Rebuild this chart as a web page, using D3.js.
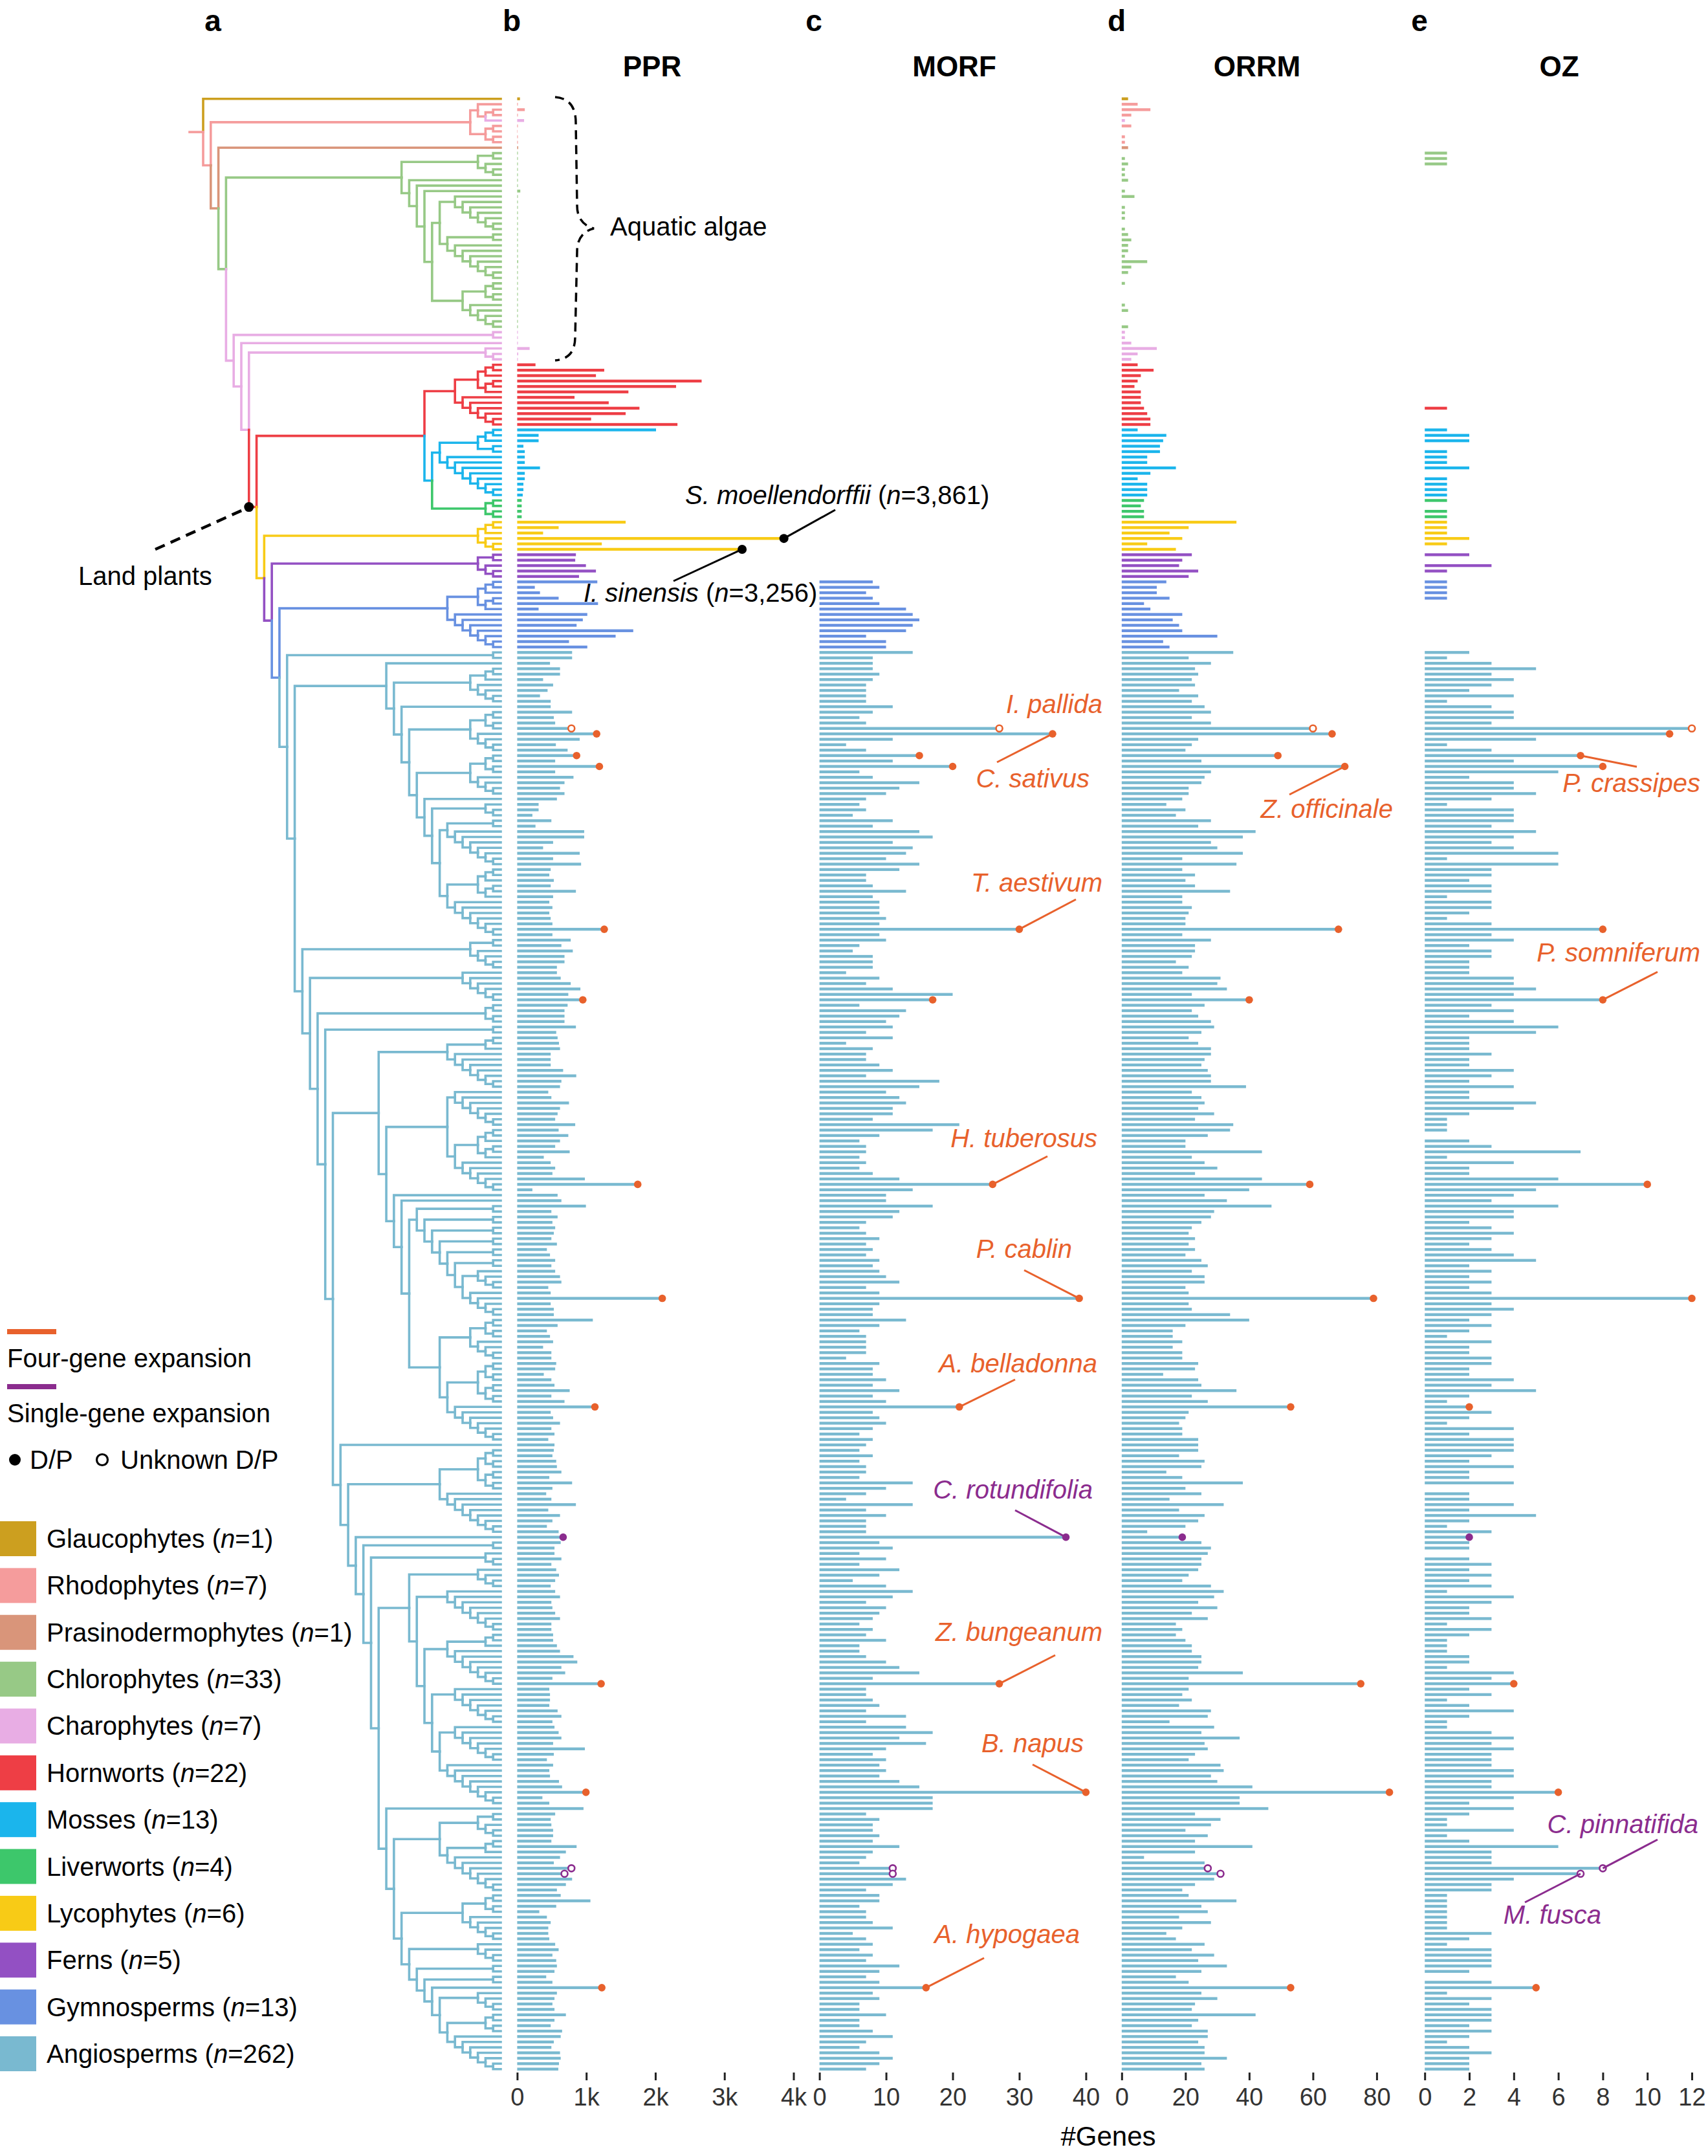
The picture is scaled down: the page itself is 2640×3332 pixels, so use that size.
<!DOCTYPE html>
<html><head><meta charset="utf-8">
<script src="https://cdn.jsdelivr.net/npm/d3@7"></script>
<style>
body{margin:0;background:#fff;}
svg text{font-family:"Liberation Sans", Arial, Helvetica, sans-serif;}
</style>
</head><body>
<svg id="chart" width="2640" height="3332" xmlns="http://www.w3.org/2000/svg"></svg>
<script>
// ---------------- DATA ----------------
const groupInfo = [
  {key:'Gla', name:'Glaucophytes',       n:'1',   color:'#CC9F1F'},
  {key:'Rho', name:'Rhodophytes',        n:'7',   color:'#F59C9C'},
  {key:'Pra', name:'Prasinodermophytes', n:'1',   color:'#D9957A'},
  {key:'Chl', name:'Chlorophytes',       n:'33',  color:'#97C986'},
  {key:'Cha', name:'Charophytes',        n:'7',   color:'#E8ADE4'},
  {key:'Hor', name:'Hornworts',          n:'22',  color:'#EE3E45'},
  {key:'Mos', name:'Mosses',             n:'13',  color:'#1BB5EC'},
  {key:'Liv', name:'Liverworts',         n:'4',   color:'#3DC76B'},
  {key:'Lyc', name:'Lycophytes',         n:'6',   color:'#F8CB16'},
  {key:'Fer', name:'Ferns',              n:'5',   color:'#9350C3'},
  {key:'Gym', name:'Gymnosperms',        n:'13',  color:'#6891E1'},
  {key:'Ang', name:'Angiosperms',        n:'262', color:'#79B9D0'}
];
const rowGroups = [[0,0,'Gla'],[1,3,'Rho'],[4,4,'Cha'],[5,8,'Rho'],[9,9,'Pra'],[10,42,'Chl'],
  [43,48,'Cha'],[49,60,'Hor'],[61,73,'Mos'],[74,77,'Liv'],[78,83,'Lyc'],[84,88,'Fer'],
  [89,101,'Gym'],[102,363,'Ang']];

const pprCounts = [
  40,10,110,10,100,10,5,10,10,15,
  10,10,10,10,10,10,10,45,10,10,10,10,10,10,10,10,10,10,10,10,15,10,10,10,10,10,10,10,10,10,10,10,10,
  10,10,10,180,15,10,
  265,1260,1140,2670,2300,1610,830,1325,1770,1570,1070,2320,
  2010,310,310,90,110,110,110,330,110,110,90,90,80,
  65,65,65,65,
  1570,600,375,3861,1225,3256,
  850,840,995,1140,895,
  1160,255,330,600,1170,310,1015,950,860,1680,1425,750,1015,
  795,795,475,620,620,375,520,440,330,485,485,795,530,550,785,1150,905,560,730,860,550,1190,550,815,685,620,685,575,310,310,220,495,265,970,
  970,520,375,905,520,925,485,465,530,485,850,520,465,510,465,485,510,1260,510,775,640,805,685,685,575,575,630,775,915,740,950,730,685,685,685,850,565,585,605,620,485,485,485,665,855,
  640,620,450,495,750,620,585,550,840,600,740,620,550,760,385,485,550,510,980,1745,220,585,640,995,495,585,510,550,530,495,575,430,475,550,495,550,620,640,450,485,2100,485,530,530,1095,585,
  430,475,520,375,495,495,565,550,385,495,540,760,495,685,1125,485,520,620,495,540,450,540,530,510,565,575,640,465,795,510,420,495,850,450,620,510,430,600,665,630,540,540,640,495,565,
  605,550,485,550,620,495,510,550,620,495,495,520,520,575,620,815,870,640,695,510,1215,465,475,475,465,585,640,510,540,600,640,520,980,530,430,520,465,475,605,650,995,365,465,960,550,
  485,495,520,520,495,860,705,620,530,785,685,795,705,575,630,1060,565,320,430,485,450,450,465,550,600,510,565,575,540,420,510,1225,575,540,510,540,705,540,485,650,630,530,495,620,630,605,595
];
const morfCounts = [].concat(new Array(89).fill(null), [
  8,9,7,8,9,13,14,15,14,13,7,10,10,
  14,8,8,8,9,8,7,7,7,7,11,8,6,7,27,35,11,4,7,15,11,20,6,8,15,12,10,7,6,7,5,11,8,15,
  17,11,14,13,10,15,12,7,7,8,13,8,9,9,9,10,9,30,9,10,6,5,8,8,8,4,9,7,11,20,17,6,13,12,10,11,7,11,4,8,7,7,9,11,7,
  18,15,10,12,13,11,11,8,21,17,9,6,7,7,6,7,6,8,12,26,14,10,10,17,12,11,7,6,7,9,7,8,7,9,8,9,10,12,7,9,39,9,8,8,13,9,
  6,7,7,7,7,4,9,8,8,10,8,12,8,10,21,8,9,10,8,6,8,7,6,8,6,7,7,6,14,10,7,4,14,7,10,7,7,7,37,9,11,6,10,6,12,
  9,5,10,14,11,7,10,9,8,6,8,7,10,6,6,7,10,12,15,8,27,7,7,8,9,7,13,7,13,17,12,16,10,8,10,9,10,9,12,15,40,17,17,17,7,
  9,8,8,9,8,12,8,7,6,11,11,13,11,7,9,9,6,7,7,8,11,5,7,8,6,8,7,12,9,7,9,16,8,9,6,6,10,6,6,8,11,7,6,9,11,9,7
]);
const orrmCounts = [
  2,5,9,3,1,3,0,1,1,2,
  0,1,2,1,1,2,0,1,4,0,1,1,1,0,1,2,3,2,2,1,8,3,2,0,1,0,0,0,1,2,0,0,2,
  1,1,3,11,5,3,
  5,10,6,5,4,6,6,6,7,8,9,9,
  5,14,13,12,12,8,8,17,9,5,8,8,8,
  7,6,7,7,
  36,21,15,19,8,17,
  22,19,18,24,21,
  14,11,11,15,7,9,19,16,18,19,30,13,15,
  35,21,28,23,24,22,23,18,24,22,26,28,22,28,60,66,24,22,20,49,25,70,28,26,25,21,21,19,14,20,17,28,24,42,
  38,28,30,38,19,36,19,23,20,23,34,19,19,22,21,20,20,68,19,28,23,23,22,17,21,19,31,30,33,22,40,26,22,24,28,29,25,21,24,28,28,26,25,27,28,
  28,39,22,25,26,24,29,23,35,34,27,20,20,44,22,26,30,23,44,59,40,26,33,47,29,28,25,22,21,23,21,23,20,25,27,22,26,26,20,21,79,21,22,34,40,20,
  16,16,19,16,19,19,24,23,13,24,25,36,22,27,53,21,20,18,19,19,24,24,24,18,26,25,14,19,38,20,25,15,32,18,26,24,20,8,19,25,28,27,25,25,24,
  21,19,28,32,29,24,30,22,27,17,19,17,20,22,22,25,25,24,38,21,75,21,19,22,18,28,27,15,29,25,37,26,27,23,21,31,32,28,30,41,84,37,37,46,23,
  31,28,20,27,23,41,23,7,26,27,31,29,23,19,21,36,25,27,18,28,19,14,17,26,22,29,24,33,25,17,21,53,25,30,23,22,42,24,22,27,27,24,26,26,33,25,26
];
const ozCounts = [
  0,0,0,0,0,0,0,0,0,0,
  1,1,1,0,0,0,0,0,0,0,0,0,0,0,0,0,0,0,0,0,0,0,0,0,0,0,0,0,0,0,0,0,0,
  0,0,0,0,0,0,
  0,0,0,0,0,0,0,0,1,0,0,0,
  1,2,2,0,1,1,1,2,0,1,1,1,1,
  1,0,1,1,
  1,1,1,2,1,0,
  2,0,3,1,0,
  1,1,1,1,0,0,0,0,0,0,0,0,0,
  2,1,3,5,3,4,3,2,4,1,3,4,4,3,12,11,5,1,3,7,4,8,6,2,4,4,5,3,1,4,4,4,3,5,
  4,3,4,6,1,6,3,3,2,3,3,1,3,3,2,1,3,8,3,4,2,3,3,2,2,2,4,4,5,4,8,3,4,2,4,6,5,2,2,2,3,2,2,4,3,
  2,4,2,2,5,4,2,1,1,1,0,2,3,7,1,4,2,2,6,10,5,4,3,6,4,4,2,3,4,3,2,3,4,5,2,3,2,3,2,3,12,3,4,3,2,3,
  2,1,3,2,2,3,3,2,2,4,3,5,2,1,2,3,2,1,4,2,4,4,4,3,2,4,2,2,4,0,2,2,4,2,5,2,1,3,2,2,2,0,2,3,2,
  3,2,3,1,4,3,2,2,3,1,3,2,1,1,1,2,2,1,4,3,4,2,3,1,2,4,2,1,1,3,4,3,4,3,3,3,4,4,3,3,6,4,2,4,2,
  1,1,4,1,2,6,3,3,3,8,7,4,3,3,1,1,1,1,1,1,1,3,2,1,3,3,3,3,2,0,3,5,1,3,2,3,3,3,2,3,2,1,2,3,2,2,2
];

const highlights = [
  {row:116, kind:'four',   open:true,  name:'I. pallida'},
  {row:117, kind:'four',   open:false, name:'C. sativus'},
  {row:121, kind:'four',   open:false, name:'P. crassipes'},
  {row:123, kind:'four',   open:false, name:'Z. officinale'},
  {row:153, kind:'four',   open:false, name:'T. aestivum'},
  {row:166, kind:'four',   open:false, name:'P. somniferum'},
  {row:200, kind:'four',   open:false, name:'H. tuberosus'},
  {row:221, kind:'four',   open:false, name:'P. cablin'},
  {row:241, kind:'four',   open:false, name:'A. belladonna'},
  {row:265, kind:'single', open:false, name:'C. rotundifolia'},
  {row:292, kind:'four',   open:false, name:'Z. bungeanum'},
  {row:312, kind:'four',   open:false, name:'B. napus'},
  {row:326, kind:'single', open:true,  name:'C. pinnatifida'},
  {row:327, kind:'single', open:true,  name:'M. fusca'},
  {row:348, kind:'four',   open:false, name:'A. hypogaea'}
];
const pprNotes = [
  {row:81, name:'S. moellendorffii', n:'3,861'},
  {row:83, name:'I. sinensis', n:'3,256'}
];

// phylogeny topology: 1 = leaf, array = node, {n,h} = terminal clade of n leaves and depth h
const RHODO  = [[1,[[1,1],1]],[[1,1],[1,1]]];
const CHLORO = [{n:5,h:3},[1,[1,[1,[[{n:7,h:6},{n:9,h:7}],{n:9,h:5}]]]]];
const BRYO   = [{n:12,h:6},[{n:13,h:8},{n:4,h:2}]];
const MONO   = [1,[{n:7,h:4},[1,[{n:8,h:4},[{n:8,h:4},[1,[{n:3,h:2},[{n:9,h:7},{n:13,h:7}]]]]]]]];
const AN8F   = [{n:2,h:1},[{n:2,h:1},[{n:2,h:1},[{n:2,h:1},[{n:2,h:1},[{n:2,h:1},[{n:4,h:3},{n:5,h:4}]]]]]]];
const AN8    = [{n:10,h:7},[[{n:7,h:6},{n:12,h:6}],[1,[1,[AN8F,[{n:8,h:4},{n:15,h:7}]]]]]];
const AN14A  = [{n:4,h:3},[{n:8,h:7},[{n:10,h:7},[{n:7,h:6},[{n:7,h:6},{n:8,h:7}]]]]];
const AN15   = [1,[[{n:5,h:3},{n:10,h:7}],[{n:9,h:5},[{n:4,h:3},[{n:2,h:1},[{n:2,h:1},[1,[{n:4,h:3},{n:11,h:7}]]]]]]]];
const AN9    = [1,[{n:16,h:8},[1,[{n:2,h:1},[{n:3,h:2},[AN14A,AN15]]]]]];
const AN3    = [{n:6,h:4},[{n:6,h:5},[{n:4,h:2},[{n:2,h:1},[AN8,AN9]]]]];
const ANGIO  = [{n:2,h:1},[MONO,AN3]];
const TRACH  = [{n:6,h:3},[{n:5,h:3},[{n:13,h:7},ANGIO]]];
const LANDP  = [BRYO, TRACH];
const treeSpec = [1,[RHODO,[1,[CHLORO,[[1,1],[1,[[1,[1,1]],LANDP]]]]]]];

// ---------------- LAYOUT ----------------
const svg = d3.select('#chart');
const FONT = '"Liberation Sans", Arial, sans-serif';
const ORANGE = '#E8612C', PURPLE = '#8B2C8E';
const colorOf = {}; groupInfo.forEach(g => colorOf[g.key] = g.color);
const rowColor = [];
rowGroups.forEach(([a,b,k]) => { for (let i=a;i<=b;i++) rowColor[i] = colorOf[k]; });

const nRows = pprCounts.length;
const rowY = d3.scaleLinear().domain([0, nRows-1]).range([152.7, 3197.7]);

const panels = [
  {title:'PPR',  letter:'b', values:pprCounts,  domain:[0,4000], range:[799.4,1226.5], ticks:[0,1000,2000,3000,4000], fmt:d => d ? (d/1000)+'k' : '0', letterX:791,  titleX:1008},
  {title:'MORF', letter:'c', values:morfCounts, domain:[0,40],   range:[1266.6,1678.4], ticks:[0,10,20,30,40], fmt:d3.format('d'), letterX:1258, titleX:1475},
  {title:'ORRM', letter:'d', values:orrmCounts, domain:[0,80],   range:[1733.8,2127.9], ticks:[0,20,40,60,80], fmt:d3.format('d'), letterX:1726, titleX:1943},
  {title:'OZ',   letter:'e', values:ozCounts,   domain:[0,12],   range:[2202.2,2615],   ticks:[0,2,4,6,8,10,12], fmt:d3.format('d'), letterX:2194, titleX:2410}
];
panels.forEach(p => p.x = d3.scaleLinear().domain(p.domain).range(p.range));
const panelBy = {}; panels.forEach(p => panelBy[p.title] = p);

// ---- tree ----
function ladder(k){ return k===1 ? 1 : [1, ladder(k-1)]; }
function balanced(k){ return k===1 ? 1 : [balanced(Math.ceil(k/2)), balanced(Math.floor(k/2))]; }
function clade(n,h){ if (n===1) return 1; if (h >= n-1) return ladder(n); return [balanced(n-h), ladder(h)]; }
function expand(s){
  if (s === 1) return {};
  if (Array.isArray(s)) return {children: s.map(expand)};
  return expand(clade(s.n, s.h));
}
const root = d3.hierarchy(expand(treeSpec), d => d.children);
d3.cluster().size([1,1]).separation(() => 1)(root);
const leaves = root.leaves();
leaves.forEach((l,i) => l.row = i);
const ty = d3.scaleLinear().domain([leaves[0].x, leaves[leaves.length-1].x]).range([rowY(0), rowY(leaves.length-1)]);
const tx = d3.scaleLinear().domain([0,1]).range([314, 774]);
root.each(n => { n.col = rowColor[n.leaves()[0].row] || '#999'; });

const gTree = svg.append('g').attr('fill','none').attr('stroke-width',3.6).attr('stroke-linecap','square');
gTree.selectAll('path').data(root.links()).join('path')
  .attr('d', l => `M${tx(l.source.y)},${ty(l.source.x)}V${ty(l.target.x)}H${tx(l.target.y)}`)
  .attr('stroke', l => l.target.col);
gTree.append('path').attr('d', `M${tx(0)-21},${ty(root.x)}H${tx(0)}`).attr('stroke', colorOf.Rho);

// land plants marker
const lp = root.descendants().find(n => n.children && n.leaves()[0].row === 49 && n.leaves().length === leaves.length-49);
if (lp) {
  const lpX = tx(lp.parent.y), lpY = ty(lp.x);
  svg.append('line').attr('x1',240).attr('y1',849).attr('x2',lpX-6).attr('y2',lpY+3)
    .attr('stroke','#000').attr('stroke-width',4.5).attr('stroke-dasharray','16 10');
  svg.append('circle').attr('cx',lpX).attr('cy',lpY).attr('r',7.5).attr('fill','#000');
}
svg.append('text').attr('x',121).attr('y',904).attr('font-size',40).text('Land plants');

// aquatic algae brace
svg.append('path')
  .attr('d','M858,150 C880,152 890,165 890,190 L892,318 C892,340 905,350 918,353 C905,356 892,366 892,388 L889,520 C889,545 878,555 858,557')
  .attr('fill','none').attr('stroke','#000').attr('stroke-width',3.5).attr('stroke-dasharray','14 9');
svg.append('text').attr('x',943).attr('y',364).attr('font-size',40).text('Aquatic algae');

// ---- bars ----
const BAR_H = 4.4;
panels.forEach(p => {
  const g = svg.append('g');
  const data = p.values.map((v,i) => ({v:v, i:i})).filter(d => d.v != null && d.v > 0);
  g.selectAll('rect').data(data).join('rect')
    .attr('x', p.x(0)).attr('width', d => p.x(d.v) - p.x(0))
    .attr('y', d => rowY(d.i) - BAR_H/2).attr('height', BAR_H)
    .attr('fill', d => rowColor[d.i]);
  const ax = svg.append('g').attr('transform','translate(0,3203)')
    .call(d3.axisBottom(p.x).tickValues(p.ticks).tickFormat(p.fmt).tickSize(12).tickPadding(12));
  ax.select('.domain').remove();
  ax.selectAll('.tick line').attr('stroke','#222').attr('stroke-width',3);
  ax.selectAll('.tick text').attr('font-size',38).attr('font-family',FONT).attr('fill','#333');
  svg.append('text').attr('x', p.titleX).attr('y',118)
    .attr('text-anchor','middle').attr('font-size',44).attr('font-weight','bold').text(p.title);
  svg.append('text').attr('x', p.letterX).attr('y',48).attr('text-anchor','middle')
    .attr('font-size',46).attr('font-weight','bold').text(p.letter);
});
svg.append('text').attr('x',329).attr('y',48).attr('text-anchor','middle').attr('font-size',46).attr('font-weight','bold').text('a');

// ---- expansion markers ----
const markG = svg.append('g');
highlights.forEach(h => {
  const col = h.kind === 'four' ? ORANGE : PURPLE;
  panels.forEach(p => {
    const v = p.values[h.row];
    markG.append('circle').attr('cx', p.x(v)).attr('cy', rowY(h.row)).attr('r', h.open ? 5 : 5.8)
      .attr('fill', h.open ? '#fff' : col).attr('stroke', col).attr('stroke-width', h.open ? 2.6 : 0);
  });
});

// ---- labels ----
const labelLayout = {
  'I. pallida':     {panel:'MORF', x:1704, y:1102, anchor:'end'},
  'C. sativus':     {panel:'MORF', x:1684, y:1217, anchor:'end', lx:1541, ly:1178},
  'P. crassipes':   {panel:'OZ',   x:2628, y:1224, anchor:'end', lx:2530, ly:1185},
  'Z. officinale':  {panel:'ORRM', x:2153, y:1264, anchor:'end', lx:1993, ly:1228},
  'T. aestivum':    {panel:'MORF', x:1704, y:1378, anchor:'end', lx:1663, ly:1390},
  'P. somniferum':  {panel:'OZ',   x:2628, y:1486, anchor:'end', lx:2562, ly:1502},
  'H. tuberosus':   {panel:'MORF', x:1696, y:1773, anchor:'end', lx:1619, ly:1787},
  'P. cablin':      {panel:'MORF', x:1657, y:1944, anchor:'end', lx:1583, ly:1963},
  'A. belladonna':  {panel:'MORF', x:1696, y:2121, anchor:'end', lx:1569, ly:2132},
  'C. rotundifolia':{panel:'MORF', x:1689, y:2316, anchor:'end', lx:1569, ly:2334},
  'Z. bungeanum':   {panel:'MORF', x:1704, y:2536, anchor:'end', lx:1631, ly:2558},
  'B. napus':       {panel:'MORF', x:1675, y:2708, anchor:'end', lx:1596, ly:2727},
  'C. pinnatifida': {panel:'OZ',   x:2625, y:2833, anchor:'end', lx:2562, ly:2843},
  'M. fusca':       {panel:'OZ',   x:2475, y:2973, anchor:'end', lx:2357, ly:2940},
  'A. hypogaea':    {panel:'MORF', x:1669, y:3003, anchor:'end', lx:1521, ly:3026}
};
highlights.forEach(h => {
  const L = labelLayout[h.name]; if (!L) return;
  const col = h.kind === 'four' ? ORANGE : PURPLE;
  const p = panelBy[L.panel];
  if (L.lx != null) {
    svg.append('line').attr('x1', p.x(p.values[h.row])).attr('y1', rowY(h.row)).attr('x2', L.lx).attr('y2', L.ly)
      .attr('stroke', col).attr('stroke-width', 3);
  }
  svg.append('text').attr('x', L.x).attr('y', L.y).attr('text-anchor', L.anchor)
    .attr('font-size', 40).attr('font-style','italic').attr('fill', col).text(h.name);
});

const noteLayout = {'S. moellendorffii': {x:1059, y:779, lx:1291, ly:788}, 'I. sinensis': {x:902, y:930, lx:1041, ly:898}};
const ppr = panelBy.PPR;
pprNotes.forEach(nt => {
  const L = noteLayout[nt.name];
  const cx = ppr.x(pprCounts[nt.row]), cy = rowY(nt.row);
  svg.append('line').attr('x1',cx).attr('y1',cy).attr('x2',L.lx).attr('y2',L.ly).attr('stroke','#000').attr('stroke-width',3);
  svg.append('circle').attr('cx',cx).attr('cy',cy).attr('r',7).attr('fill','#000');
  const t = svg.append('text').attr('x',L.x).attr('y',L.y).attr('font-size',40);
  t.append('tspan').attr('font-style','italic').text(nt.name);
  t.append('tspan').text(' (');
  t.append('tspan').attr('font-style','italic').text('n');
  t.append('tspan').text('=' + nt.n + ')');
});

svg.append('text').attr('x',1713).attr('y',3316).attr('text-anchor','middle').attr('font-size',42).text('#Genes');

// ---- legend ----
const lg = svg.append('g');
lg.append('line').attr('x1',11).attr('x2',87).attr('y1',2058).attr('y2',2058).attr('stroke',ORANGE).attr('stroke-width',8);
lg.append('text').attr('x',11).attr('y',2113).attr('font-size',40).text('Four-gene expansion');
lg.append('line').attr('x1',11).attr('x2',87).attr('y1',2143).attr('y2',2143).attr('stroke',PURPLE).attr('stroke-width',8);
lg.append('text').attr('x',11).attr('y',2198).attr('font-size',40).text('Single-gene expansion');
lg.append('circle').attr('cx',23).attr('cy',2256).attr('r',9).attr('fill','#000');
lg.append('text').attr('x',46).attr('y',2270).attr('font-size',40).text('D/P');
lg.append('circle').attr('cx',158).attr('cy',2256).attr('r',8.5).attr('fill','#fff').attr('stroke','#000').attr('stroke-width',3.2);
lg.append('text').attr('x',186).attr('y',2270).attr('font-size',40).text('Unknown D/P');
const legY = d3.scaleLinear().domain([0, groupInfo.length-1]).range([2378, 3174]);
groupInfo.forEach((g,i) => {
  lg.append('rect').attr('x',0).attr('y',legY(i)-27).attr('width',56).attr('height',54).attr('fill',g.color);
  const t = lg.append('text').attr('x',72).attr('y',legY(i)+14).attr('font-size',40);
  t.append('tspan').text(g.name + ' (');
  t.append('tspan').attr('font-style','italic').text('n');
  t.append('tspan').text('=' + g.n + ')');
});
</script>
</body></html>
